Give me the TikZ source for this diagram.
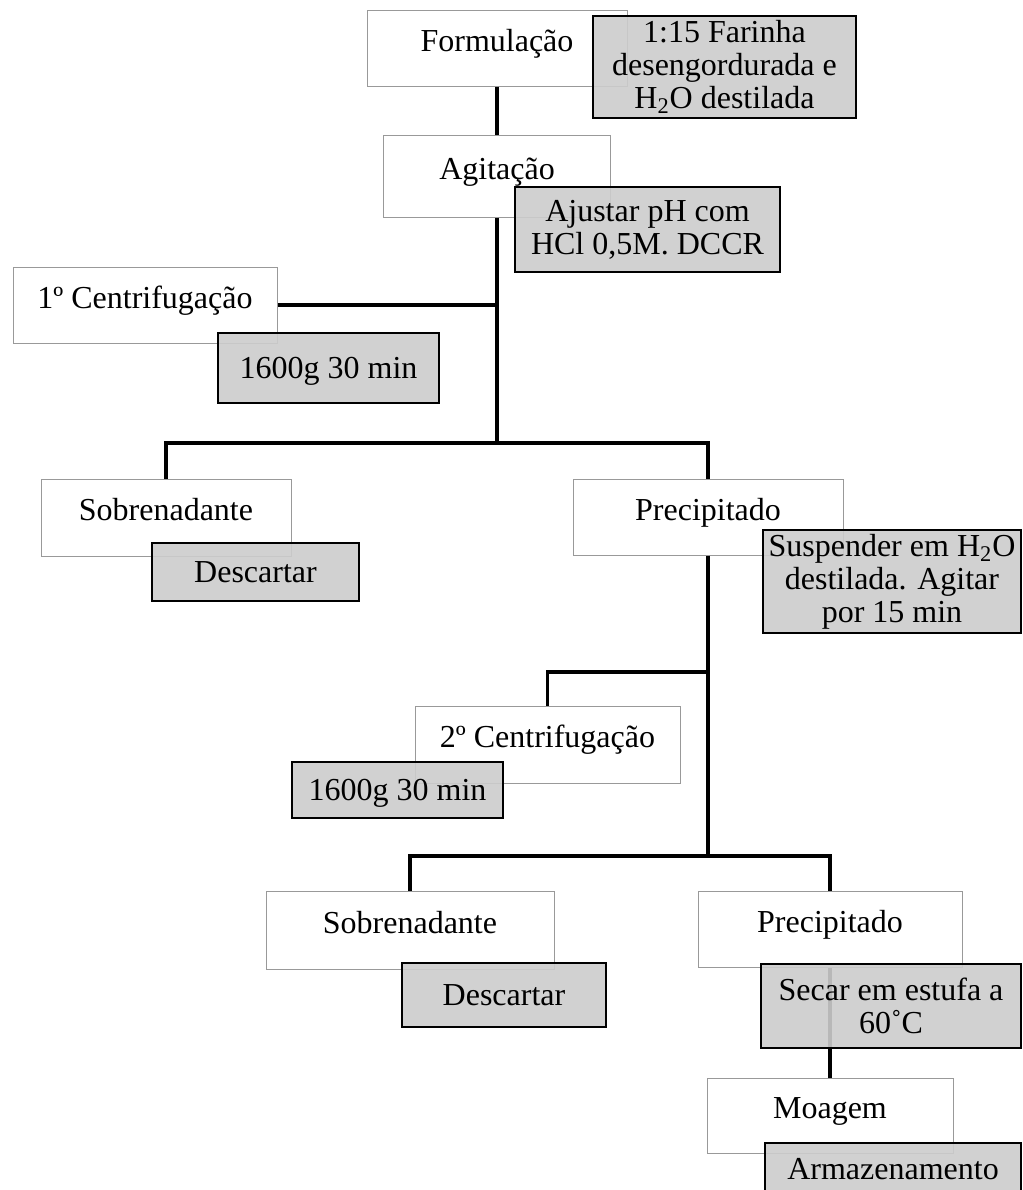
\documentclass[tikz,border=0pt]{standalone}
\usepackage{fontspec}
\setmainfont{Liberation Serif}
\usetikzlibrary{positioning}

\tikzset{
    etapa/.style={draw=black!40, line width=0.5pt, fill=white, inner sep=0pt,
        text height=7.5pt, text depth=4.5pt},
    nota/.style={draw=black, line width=0.7pt, fill=black!20, fill opacity=0.9,
        text opacity=1, inner sep=0pt, align=center},
    liga/.style={line width=1.6pt}
}

\begin{document}
\begin{tikzpicture}[x=1pt, y=-1pt, font=\fontsize{16}{16.5}\selectfont]
    % Page size (same ratio as the original)
    \useasboundingbox (0,0) rectangle (511.5,595);

    % Process steps (white boxes)
    \node[etapa, minimum width=130pt, minimum height=38pt] (form) at (248.5,24) {Formulação};
    \node[etapa, minimum width=113.5pt, minimum height=41pt] (agit) at (248.5,88) {Agitação};
    \node[etapa, minimum width=132pt, minimum height=38pt] (cent1) at (72.5,152.5) {1º Centrifugação};
    \node[etapa, minimum width=125pt, minimum height=38.5pt] (sobr1) at (83,258.75) {Sobrenadante};
    \node[etapa, minimum width=135pt, minimum height=38pt] (prec1) at (354,258.5) {Precipitado};
    \node[etapa, minimum width=132.5pt, minimum height=38.5pt] (cent2) at (273.75,372.25) {2º Centrifugação};
    \node[etapa, minimum width=144pt, minimum height=39pt] (sobr2) at (205,465) {Sobrenadante};
    \node[etapa, minimum width=132pt, minimum height=38pt] (prec2) at (415,464.5) {Precipitado};
    \node[etapa, minimum width=123pt, minimum height=37.5pt] (moag) at (415,557.75) {Moagem};

    % Junctions of the tree
    \coordinate (j1) at (248.5,221.5);
    \coordinate (b2) at (354,336);
    \coordinate (j2) at (354,428);

    % Connectors
    \draw[liga] (form.south) -- (agit.north);
    \draw[liga] (agit.south) -- (j1);
    \draw[liga] (cent1.east) -- (cent1.east -| j1);
    \draw[liga] (j1) -| (sobr1.north);
    \draw[liga] (j1) -| (prec1.north);
    \draw[liga] (prec1.south) -- (j2);
    \draw[liga] (b2) -| (cent2.north);
    \draw[liga] (j2) -| (sobr2.north);
    \draw[liga] (j2) -| (prec2.north);
    \draw[liga] (prec2.south) -- (moag.north);

    % Notes (grey boxes)
    \node[nota, minimum width=131.5pt, minimum height=51pt] (n1) at (362.25,33.5)
        {1:15 Farinha\\desengordurada e\\H\textsubscript{2}O destilada};
    \node[nota, minimum width=132.5pt, minimum height=42.5pt] (n2) at (323.75,114.75)
        {Ajustar pH com\\HCl 0,5M. DCCR};
    \node[nota, minimum width=110.5pt, minimum height=35pt, text depth=0pt] (n3) at (164.25,184) {1600g 30 min};
    \node[nota, minimum width=103.5pt, minimum height=29pt, text depth=0pt] (n4) at (127.75,286) {Descartar};
    \node[nota, minimum width=129pt, minimum height=51.5pt] (n5) at (446,290.75)
        {Suspender em H\textsubscript{2}O\\destilada. Agitar\\por 15 min};
    \node[nota, minimum width=105.5pt, minimum height=28pt, text depth=0pt] (n6) at (198.75,395) {1600g 30 min};
    \node[nota, minimum width=102pt, minimum height=32pt, text depth=0pt] (n7) at (252,497.5) {Descartar};
    \node[nota, minimum width=130pt, minimum height=42pt] (n8) at (445.5,503)
        {Secar em estufa a\\60˚C};
    \node[nota, minimum width=128pt, minimum height=26pt, text depth=0pt] (n9) at (446.5,584.5) {Armazenamento};
\end{tikzpicture}
\end{document}
